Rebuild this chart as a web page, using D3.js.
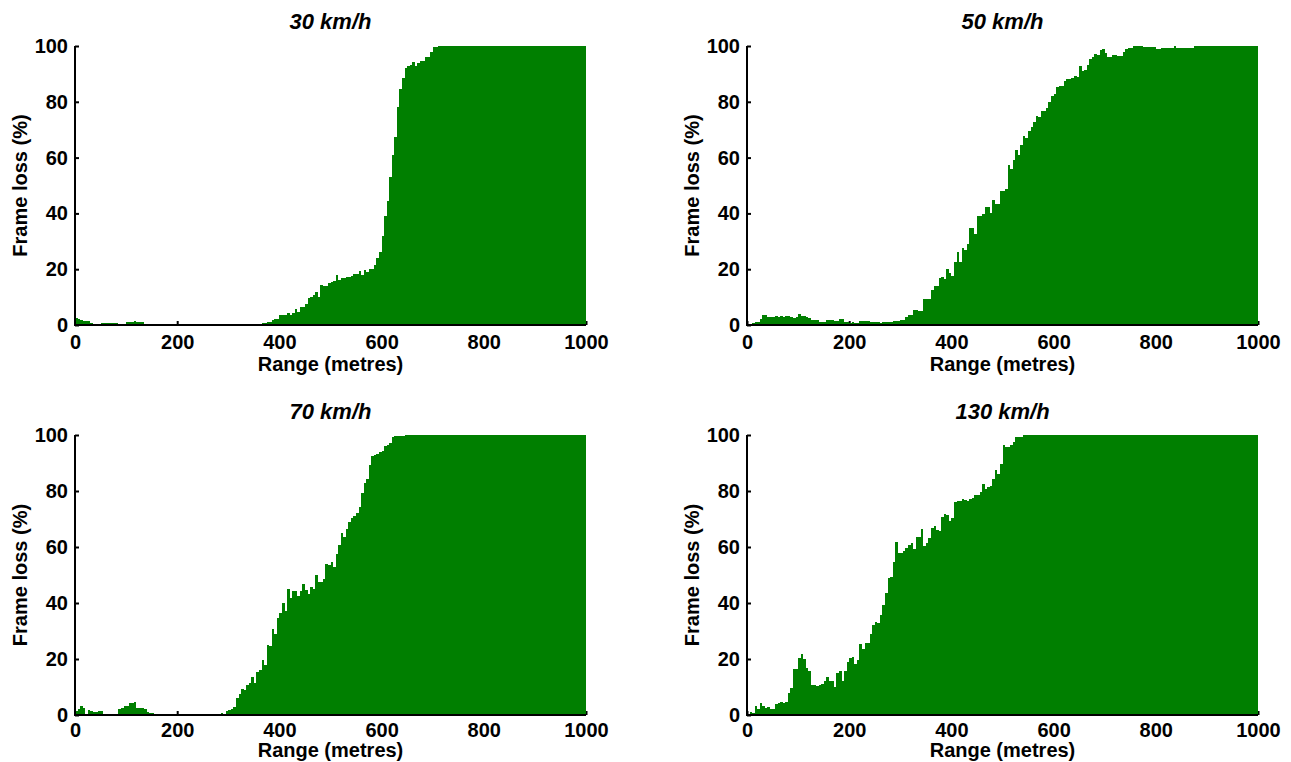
<!DOCTYPE html>
<html>
<head>
<meta charset="utf-8">
<script src="https://cdn.jsdelivr.net/npm/d3@7"></script>
<style>
  body { margin: 0; background: #ffffff; }
  text { font-family: "Liberation Sans", Arial, Helvetica, sans-serif; font-weight: bold; fill: #000; }
</style>
</head>
<body>
<svg id="chart" width="1291" height="762"></svg>
<script>
// Frame loss per 5 m range bin, one series per vehicle speed.
const binWidth = 5;
const speedTitles = ["30 km/h", "50 km/h", "70 km/h", "130 km/h"];
const xTicks = [0, 200, 400, 600, 800, 1000];
const yTicks = [0, 20, 40, 60, 80, 100];
const xLabel = "Range (metres)";
const yLabel = "Frame loss (%)";

const loss30 = [
  2.6, 2.3, 1.8, 1.5, 1.4, 1.4, 0.7, 0.5, 0.1, 0.1,
  0.7, 0.8, 0.7, 0.8, 0.7, 0.7, 0.8, 0.1, 0.1, 0.4,
  1.0, 1.1, 1.2, 1.4, 1.1, 1.1, 1.0, 0.4, 0.2, 0.2,
  0.2, 0.2, 0.2, 0.2, 0.2, 0.2, 0.2, 0.2, 0.2, 0.2,
  0.2, 0.2, 0.2, 0.2, 0.2, 0.2, 0.2, 0.2, 0.2, 0.2,
  0.2, 0.2, 0.2, 0.2, 0.2, 0.2, 0.2, 0.2, 0.2, 0.2,
  0.2, 0.2, 0.2, 0.2, 0.2, 0.2, 0.2, 0.2, 0.2, 0.4,
  0.4, 0.4, 0.4, 0.6, 0.7, 1.0, 1.2, 1.8, 2.1, 2.2,
  3.5, 3.6, 3.7, 4.2, 3.7, 4.4, 5.6, 4.8, 6.4, 6.6,
  7.5, 9.5, 10.1, 10.7, 11.9, 10.1, 14.3, 14.0, 13.9, 15.2,
  15.4, 15.6, 18.0, 16.1, 17.0, 16.9, 17.1, 17.3, 17.4, 18.3,
  18.2, 19.5, 18.1, 19.7, 19.1, 19.9, 20.1, 21.5, 24.0, 26.0,
  32.0, 39.0, 44.4, 53.0, 61.0, 67.5, 78.0, 84.5, 88.4, 92.0,
  93.0, 93.2, 94.3, 93.0, 94.0, 94.6, 94.6, 96.0, 96.0, 97.7,
  99.5, 99.5, 100, 100, 100, 100, 100, 100, 100, 100,
  100, 100, 100, 100, 100, 100, 100, 100, 100, 100,
  100, 100, 100, 100, 100, 100, 100, 100, 100, 100,
  100, 100, 100, 100, 100, 100, 100, 100, 100, 100,
  100, 100, 100, 100, 100, 100, 100, 100, 100, 100,
  100, 100, 100, 100, 100, 100, 100, 100, 100, 100
];

const loss50 = [
  0.3, 0.5, 0.6, 1.1, 1.2, 2.0, 3.6, 3.5, 2.8, 2.7,
  2.7, 3.2, 2.8, 3.1, 3.0, 3.2, 3.3, 2.7, 2.6, 2.8,
  3.9, 3.3, 3.2, 2.7, 2.6, 1.9, 1.8, 1.8, 1.2, 1.1,
  1.2, 1.8, 1.7, 1.9, 1.6, 1.4, 2.1, 2.0, 1.2, 1.1,
  0.8, 0.9, 0.8, 0.7, 1.4, 1.3, 1.4, 1.4, 1.1, 1.1,
  1.0, 1.1, 0.6, 1.1, 1.1, 1.0, 1.2, 1.4, 1.4, 1.5,
  1.8, 1.8, 3.0, 3.5, 3.6, 5.4, 5.3, 5.0, 5.0, 9.2,
  9.3, 9.4, 12.5, 14.0, 14.0, 17.0, 17.1, 16.4, 20.0, 18.5,
  17.6, 22.7, 26.0, 22.7, 27.5, 27.0, 29.0, 34.6, 34.6, 32.6,
  39.0, 39.1, 39.8, 42.2, 42.2, 40.0, 44.8, 43.4, 43.4, 48.0,
  48.0, 48.7, 57.3, 56.0, 59.0, 62.7, 61.0, 64.5, 67.7, 67.0,
  69.5, 71.0, 72.9, 75.0, 74.4, 76.7, 76.7, 77.8, 80.0, 82.0,
  82.8, 85.3, 85.7, 85.7, 87.5, 88.0, 88.0, 88.6, 89.2, 89.0,
  92.8, 91.0, 91.4, 93.2, 95.2, 96.2, 97.1, 96.8, 98.6, 98.8,
  97.4, 96.2, 96.2, 96.8, 96.8, 96.4, 96.4, 98.0, 98.9, 99.4,
  99.4, 100, 100, 100, 100, 99.6, 99.6, 99.6, 99.6, 99.6,
  99.0, 99.0, 99.4, 99.4, 99.4, 99.4, 99.4, 100, 99.4, 99.4,
  99.4, 99.4, 99.4, 99.4, 99.4, 100, 100, 100, 100, 100,
  100, 100, 100, 100, 100, 100, 100, 100, 100, 100,
  100, 100, 100, 100, 100, 100, 100, 100, 100, 100
];

const loss70 = [
  1.4, 2.0, 3.2, 2.4, 0.4, 1.8, 1.4, 1.2, 1.1, 1.3,
  1.4, 0.2, 0.2, 0.2, 0.2, 0.2, 0.2, 2.1, 2.6, 3.3,
  3.3, 4.2, 4.3, 4.8, 2.6, 2.6, 2.4, 2.0, 1.2, 0.8,
  0.8, 0.2, 0.2, 0.2, 0.2, 0.2, 0.2, 0.2, 0.2, 0.2,
  0.2, 0.2, 0.2, 0.2, 0.2, 0.2, 0.2, 0.2, 0, 0,
  0, 0, 0, 0, 0, 0.2, 0.2, 0.8, 0.4, 1.4,
  1.8, 2.0, 3.0, 6.2, 7.5, 9.3, 8.9, 10.7, 11.5, 13.5,
  11.3, 15.2, 16.0, 19.6, 17.9, 25.0, 24.6, 30.6, 28.9, 34.5,
  36.3, 40.0, 37.0, 45.0, 41.7, 44.3, 44.3, 42.6, 44.4, 46.8,
  44.6, 43.2, 45.8, 45.0, 50.0, 47.4, 47.6, 48.6, 54.0, 53.6,
  54.5, 53.0, 57.5, 60.7, 64.9, 63.5, 66.3, 69.0, 70.2, 71.0,
  72.3, 74.4, 79.4, 83.0, 84.2, 89.3, 92.5, 92.9, 93.2, 94.0,
  94.3, 96.1, 96.4, 97.0, 99.2, 99.6, 99.6, 99.6, 99.6, 100,
  100, 100, 100, 100, 100, 100, 100, 100, 100, 100,
  100, 100, 100, 100, 100, 100, 100, 100, 100, 100,
  100, 100, 100, 100, 100, 100, 100, 100, 100, 100,
  100, 100, 100, 100, 100, 100, 100, 100, 100, 100,
  100, 100, 100, 100, 100, 100, 100, 100, 100, 100,
  100, 100, 100, 100, 100, 100, 100, 100, 100, 100,
  100, 100, 100, 100, 100, 100, 100, 100, 100, 100
];

const loss130 = [
  0.2, 1.0, 0.6, 3.2, 2.0, 4.2, 3.2, 2.6, 3.0, 2.1,
  2.1, 3.9, 4.2, 4.5, 4.4, 4.8, 7.7, 9.5, 16.3, 16.3,
  20.2, 21.8, 19.9, 16.7, 15.7, 10.7, 10.7, 10.4, 10.7, 11.0,
  12.1, 13.7, 12.3, 12.3, 10.1, 14.9, 15.8, 12.3, 15.8, 19.0,
  20.5, 20.8, 18.2, 19.6, 25.4, 23.6, 25.8, 25.8, 28.9, 32.1,
  33.1, 33.0, 35.7, 39.3, 43.5, 49.0, 49.4, 54.5, 61.7, 57.7,
  58.0, 58.7, 59.8, 60.7, 61.3, 59.2, 63.5, 63.5, 66.3, 60.4,
  61.3, 63.1, 66.7, 67.6, 66.0, 65.7, 70.6, 71.7, 71.5, 69.4,
  70.2, 76.2, 76.4, 76.4, 77.1, 76.8, 76.4, 77.1, 77.4, 78.6,
  78.6, 79.8, 82.5, 80.6, 81.3, 81.8, 84.2, 87.5, 86.1, 89.6,
  96.4, 95.6, 95.6, 96.4, 97.6, 99.4, 99.4, 99.4, 100, 100,
  100, 100, 100, 100, 100, 100, 100, 100, 100, 100,
  100, 100, 100, 100, 100, 100, 100, 100, 100, 100,
  100, 100, 100, 100, 100, 100, 100, 100, 100, 100,
  100, 100, 100, 100, 100, 100, 100, 100, 100, 100,
  100, 100, 100, 100, 100, 100, 100, 100, 100, 100,
  100, 100, 100, 100, 100, 100, 100, 100, 100, 100,
  100, 100, 100, 100, 100, 100, 100, 100, 100, 100,
  100, 100, 100, 100, 100, 100, 100, 100, 100, 100,
  100, 100, 100, 100, 100, 100, 100, 100, 100, 100
];

const seriesList = [loss30, loss50, loss70, loss130];

// 2 x 2 grid of plot frames (pixel boxes of each axes area) and label offsets
const frames = [
  { left: 75,  right: 586,  top: 46,  bottom: 325, tickPad: 9.8, xTitleGap: 45.5, titleGap: 17 },
  { left: 747, right: 1258, top: 46,  bottom: 325, tickPad: 9.8, xTitleGap: 45.5, titleGap: 17 },
  { left: 75,  right: 586,  top: 435, bottom: 715, tickPad: 8.1, xTitleGap: 42.3, titleGap: 16 },
  { left: 747, right: 1258, top: 435, bottom: 715, tickPad: 8.1, xTitleGap: 42.3, titleGap: 16 }
];

const barColor = "#007f00";
const labelSize = "20px";
const svg = d3.select("#chart");

seriesList.forEach((values, p) => {
  const f = frames[p];
  const x = d3.scaleLinear().domain([0, 1000]).range([f.left, f.right]);
  const y = d3.scaleLinear().domain([0, 100]).range([f.bottom, f.top]);
  const g = svg.append("g");

  // Axes with inward ticks (drawn beneath the bars)
  const yAxis = d3.axisLeft(y).tickValues(yTicks).tickFormat(d3.format("d"))
    .tickSizeInner(-4).tickSizeOuter(0).tickPadding(7);
  const xAxis = d3.axisBottom(x).tickValues(xTicks).tickFormat(d3.format("d"))
    .tickSizeInner(-4).tickSizeOuter(0).tickPadding(f.tickPad);

  const ya = g.append("g").attr("transform", `translate(${f.left},0)`).call(yAxis);
  const xa = g.append("g").attr("transform", `translate(0,${f.bottom})`).call(xAxis);
  [ya, xa].forEach(a => {
    a.select(".domain").remove();
    a.selectAll(".tick line").attr("stroke", "#000").attr("stroke-width", 2);
    a.selectAll(".tick text")
      .style("font-family", "'Liberation Sans', Arial, sans-serif")
      .style("font-weight", "bold")
      .style("font-size", labelSize)
      .attr("fill", "#000");
  });

  // Histogram bars, one per 5 m bin
  g.append("g")
    .selectAll("rect")
    .data(values)
    .join("rect")
    .attr("x", (d, i) => x(i * binWidth))
    .attr("width", (d, i) => x((i + 1) * binWidth) - x(i * binWidth))
    .attr("y", d => y(d))
    .attr("height", d => y(0) - y(d))
    .attr("fill", barColor)
    .attr("shape-rendering", "crispEdges");

  // Axis lines on top of the bars
  g.append("line")
    .attr("x1", x(0)).attr("x2", x(0))
    .attr("y1", y(0) + 1).attr("y2", y(100))
    .attr("stroke", "#000").attr("stroke-width", 2);
  g.append("line")
    .attr("x1", x(0) - 1).attr("x2", x(1000))
    .attr("y1", y(0)).attr("y2", y(0))
    .attr("stroke", "#000").attr("stroke-width", 2);

  // Title
  g.append("text")
    .attr("x", (f.left + f.right) / 2)
    .attr("y", f.top - f.titleGap)
    .attr("text-anchor", "middle")
    .style("font-size", "22px")
    .style("font-style", "italic")
    .text(speedTitles[p]);

  // Axis titles
  g.append("text")
    .attr("x", (f.left + f.right) / 2)
    .attr("y", f.bottom + f.xTitleGap)
    .attr("text-anchor", "middle")
    .style("font-size", labelSize)
    .text(xLabel);

  g.append("text")
    .attr("transform", `translate(${f.left - 48},${(f.top + f.bottom) / 2}) rotate(-90)`)
    .attr("text-anchor", "middle")
    .style("font-size", labelSize)
    .text(yLabel);
});
</script>
</body>
</html>
